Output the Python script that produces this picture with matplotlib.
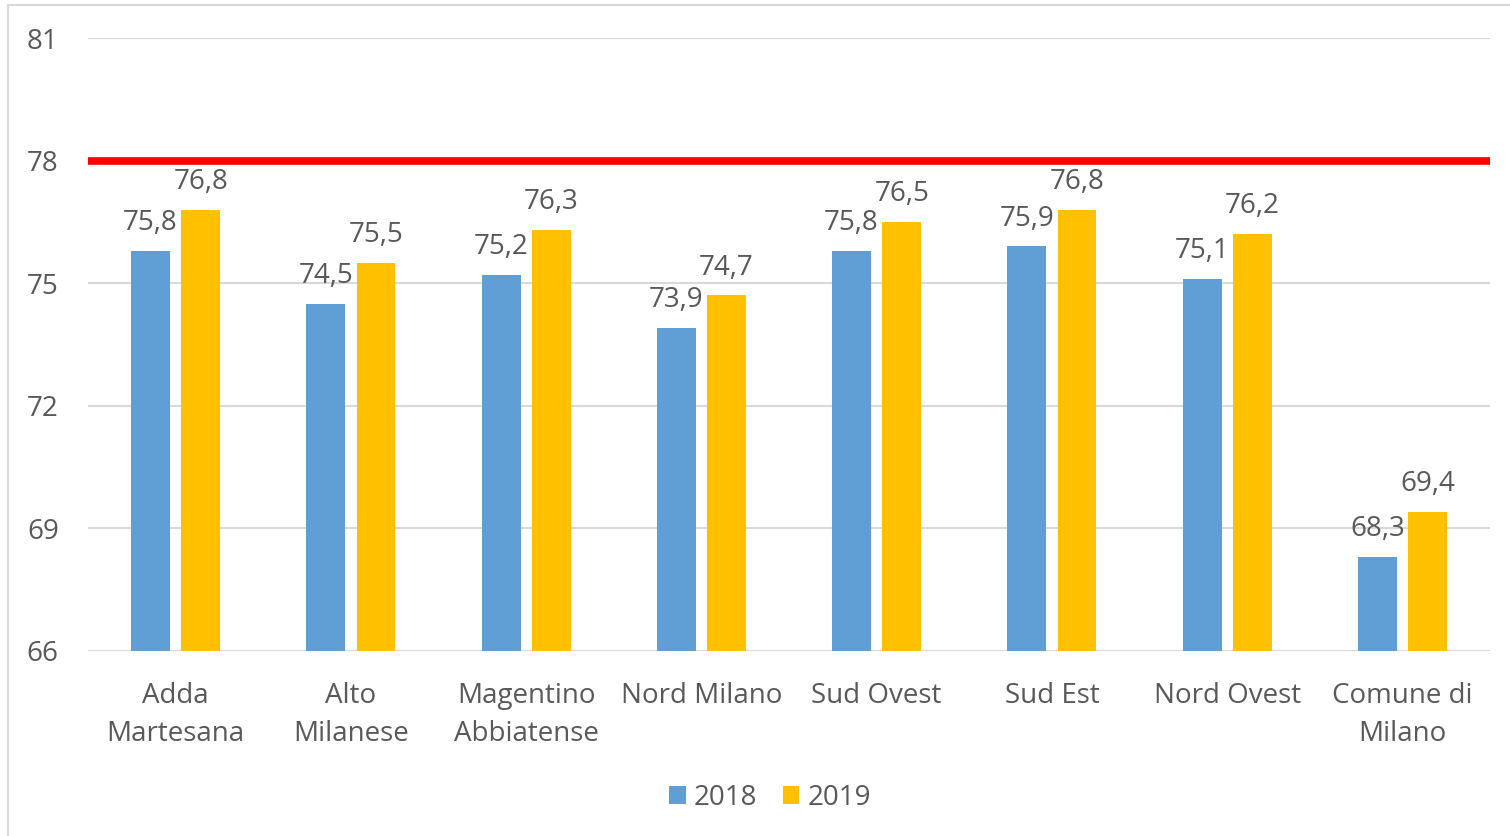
import numpy as np
import matplotlib.pyplot as plt
from matplotlib.patches import Rectangle

plt.rcParams['font.family'] = ['Open Sans', 'DejaVu Sans']

categories = ['Adda\nMartesana', 'Alto\nMilanese', 'Magentino\nAbbiatense', 'Nord Milano',
              'Sud Ovest', 'Sud Est', 'Nord Ovest', 'Comune di\nMilano']
values_2018 = [75.8, 74.5, 75.2, 73.9, 75.8, 75.9, 75.1, 68.3]
values_2019 = [76.8, 75.5, 76.3, 74.7, 76.5, 76.8, 76.2, 69.4]
series_names = ['2018', '2019']
target = 78
y_ticks = [66, 69, 72, 75, 78, 81]

blue = '#5f9fd6'
gold = '#ffc000'
text_c = '#595959'
fs = 20


def fmt(v):
    return f'{v:.1f}'.replace('.', ',')


fig = plt.figure(figsize=(15.1, 8.36), dpi=100)
ax = fig.add_axes([0.0583, 0.2213, 0.9285, 0.7332])

# chart border (cropped at right and bottom)
fig.patches.append(Rectangle((8 / 1510, -0.01), 1.1, 1 - 5 / 836 + 0.01,
                             transform=fig.transFigure, fill=False,
                             edgecolor='#d9d9d9', linewidth=1.5))

x = np.arange(len(categories))
w = 0.222
off = 0.143
b1 = ax.bar(x - off, values_2018, w, color=blue, label=series_names[0], zorder=3)
b2 = ax.bar(x + off, values_2019, w, color=gold, label=series_names[1], zorder=3)

for bars, vals in [(b1, values_2018), (b2, values_2019)]:
    for rect, v in zip(bars, vals):
        ax.annotate(fmt(v), (rect.get_x() + rect.get_width() / 2, v),
                    xytext=(0, 10), textcoords='offset points',
                    ha='center', va='bottom', fontsize=fs, color=text_c)

ax.axhline(target, color='#ff0000', linewidth=5.5, zorder=4)

ax.set_ylim(66, 81)
ax.set_xlim(-0.5, len(categories) - 0.5)
ax.set_yticks(y_ticks)
ax.set_yticklabels([str(t) for t in y_ticks])
ax.set_xticks(x)
ax.set_xticklabels(categories, linespacing=1.5)
ax.tick_params(axis='y', length=0, pad=21, labelsize=fs, labelcolor=text_c)
ax.tick_params(axis='x', length=0, pad=22, labelsize=fs, labelcolor=text_c)
ax.grid(axis='y', color='#d9d9d9', linewidth=1.5, zorder=0)
for s in ax.spines.values():
    s.set_visible(False)

fig.legend(loc='center', bbox_to_anchor=(0.51, 1 - 798 / 836), ncol=2, frameon=False,
           fontsize=fs, labelcolor=text_c, handlelength=0.6, handleheight=0.6,
           handletextpad=0.3, columnspacing=0.9)

fig.savefig('out.png', dpi=100)
